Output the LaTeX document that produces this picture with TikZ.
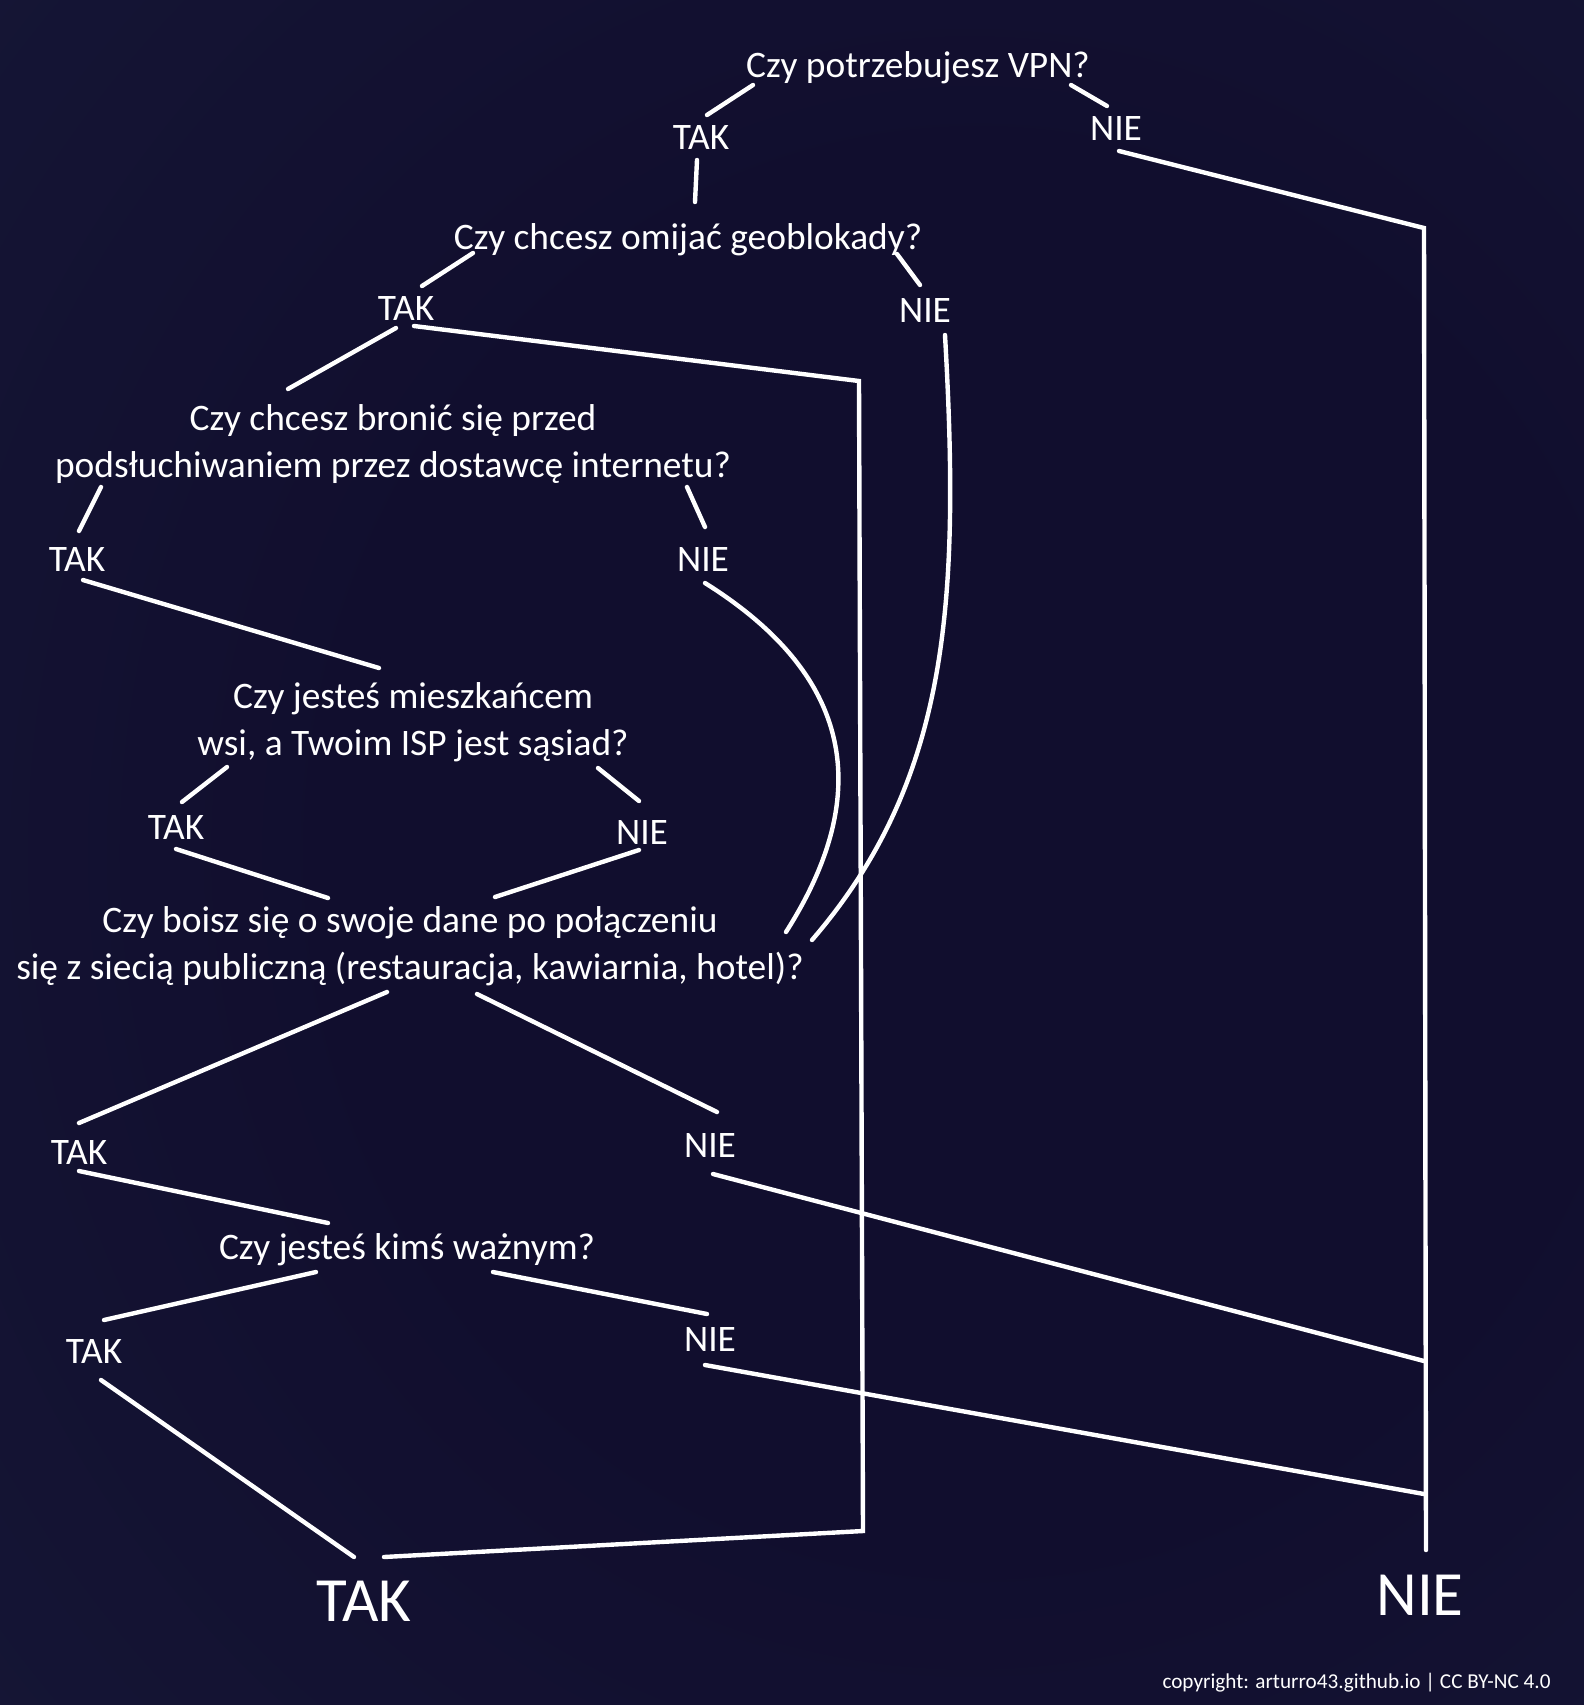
\documentclass[tikz,border=0pt]{standalone}
\usepackage{fontspec}
\setmainfont{Carlito}

\definecolor{tlo}{RGB}{27,33,64}
\definecolor{tlosrodek}{RGB}{17,14,46}
\pgfdeclareradialshading{tloshade}{\pgfpoint{8bp}{0bp}}{color(0bp)=(tlosrodek); color(20bp)=(tlosrodek); color(70bp)=(tlo); color(80bp)=(tlo)}

\tikzset{
  pytanie/.style={text=white, align=center, inner sep=0pt, font=\fontsize{18.7}{23.4}\selectfont},
  odp/.style={text=white, inner sep=0pt, font=\fontsize{18.7}{23.4}\selectfont},
  wynik/.style={text=white, inner sep=0pt, font=\fontsize{31.5}{36}\selectfont},
  linia/.style={draw=white, line width=2.2pt, line cap=round},
}

\begin{document}
\begin{tikzpicture}[x=0.5pt, y=-0.5pt]
\shade[shading=tloshade] (0,0) rectangle (1584,1705);
\useasboundingbox (0,0) rectangle (1584,1705);

% pytania i odpowiedzi
\node[pytanie] (vpn) at (918,68) {Czy potrzebujesz VPN?};
\node[odp] (tak1) at (701,137) {TAK};
\node[odp] (nie1) at (1116,128) {NIE};

\node[pytanie] (geo) at (688,240) {Czy chcesz omijać geoblokady?};
\node[odp] (tak2) at (406,308) {TAK};
\node[odp] (nie2) at (925,310) {NIE};

\node[pytanie] (isp) at (393,444) {Czy chcesz bronić się przed\\podsłuchiwaniem przez dostawcę internetu?};
\node[odp] (tak3) at (77,559) {TAK};
\node[odp] (nie3) at (703,559) {NIE};

\node[pytanie] (wies) at (413,722) {Czy jesteś mieszkańcem\\wsi, a Twoim ISP jest sąsiad?};
\node[odp] (tak4) at (176,827) {TAK};
\node[odp] (nie4) at (642,832) {NIE};

\node[pytanie] (wifi) at (410,946) {Czy boisz się o swoje dane po połączeniu\\się z siecią publiczną (restauracja, kawiarnia, hotel)?};
\node[odp] (tak5) at (79,1152) {TAK};
\node[odp] (nie5) at (710,1145) {NIE};

\node[pytanie] (wazny) at (407,1250) {Czy jesteś kimś ważnym?};
\node[odp] (tak6) at (94,1351) {TAK};
\node[odp] (nie6) at (710,1339) {NIE};

\node[wynik] (takK) at (364,1601) {TAK};
\node[wynik] (nieK) at (1420,1595) {NIE};

\node[text=white, inner sep=0pt, anchor=east, font=\fontsize{10.6}{12}\selectfont] (stopka) at (1551,1683) {copyright: arturro43.github.io | CC BY-NC 4.0};

% konce linii
\coordinate (vpn-l) at (753,85);   \coordinate (tak1-t) at (707,115);
\coordinate (vpn-r) at (1071,85);  \coordinate (nie1-t) at (1107,106);
\coordinate (tak1-b) at (697,160); \coordinate (geo-t) at (695,202);
\coordinate (nie1-b) at (1119,151);
\coordinate (geo-l) at (473,253);  \coordinate (tak2-t) at (422,286);
\coordinate (geo-r) at (897,254);  \coordinate (nie2-t) at (920,285);
\coordinate (tak2-r) at (414,326); \coordinate (tak2-l) at (396,328);
\coordinate (isp-t) at (288,389);  \coordinate (nie2-b) at (945,335);
\coordinate (isp-l) at (101,487);  \coordinate (tak3-t) at (79,531);
\coordinate (isp-r) at (687,487);  \coordinate (nie3-t) at (705,527);
\coordinate (tak3-b) at (83,580);  \coordinate (wies-t) at (379,668);
\coordinate (nie3-b) at (705,583);
\coordinate (wies-l) at (227,767); \coordinate (tak4-t) at (182,802);
\coordinate (wies-r) at (598,768); \coordinate (nie4-t) at (639,801);
\coordinate (tak4-b) at (176,849); \coordinate (wifi-l) at (328,898);
\coordinate (nie4-b) at (639,850); \coordinate (wifi-m) at (495,897);
\coordinate (wifi-r1) at (786,932); \coordinate (wifi-r2) at (812,940);
\coordinate (wifi-bl) at (387,992); \coordinate (tak5-t) at (79,1123);
\coordinate (wifi-br) at (477,994); \coordinate (nie5-t) at (717,1112);
\coordinate (tak5-b) at (79,1171); \coordinate (wazny-t) at (328,1223);
\coordinate (nie5-b) at (713,1174);
\coordinate (wazny-l) at (316,1272); \coordinate (tak6-t) at (104,1320);
\coordinate (wazny-r) at (493,1272); \coordinate (nie6-t) at (707,1314);
\coordinate (tak6-b) at (101,1380); \coordinate (takK-t) at (354,1557);
\coordinate (nie6-b) at (705,1365); \coordinate (takK-r) at (384,1557);

% zbiorcze linie
\coordinate (m1) at (859,381);
\coordinate (m2) at (863,1531);
\coordinate (r1) at (1424,228);
\coordinate (r2) at (1424,1361);
\coordinate (r3) at (1424,1494);
\coordinate (nieK-t) at (1426,1550);

\draw[linia] (vpn-l) -- (tak1-t);
\draw[linia] (vpn-r) -- (nie1-t);
\draw[linia] (tak1-b) -- (geo-t);
\draw[linia] (nie1-b) -- (r1) -- (nieK-t);

\draw[linia] (geo-l) -- (tak2-t);
\draw[linia] (geo-r) -- (nie2-t);
\draw[linia] (tak2-r) -- (m1) -- (m2) -- (takK-r);
\draw[linia] (tak2-l) -- (isp-t);
\draw[linia] (nie2-b) .. controls (960,600) and (950,780) .. (wifi-r2);

\draw[linia] (isp-l) -- (tak3-t);
\draw[linia] (isp-r) -- (nie3-t);
\draw[linia] (tak3-b) -- (wies-t);
\draw[linia] (nie3-b) .. controls (860,680) and (870,800) .. (wifi-r1);

\draw[linia] (wies-l) -- (tak4-t);
\draw[linia] (wies-r) -- (nie4-t);
\draw[linia] (tak4-b) -- (wifi-l);
\draw[linia] (nie4-b) -- (wifi-m);

\draw[linia] (wifi-bl) -- (tak5-t);
\draw[linia] (wifi-br) -- (nie5-t);
\draw[linia] (tak5-b) -- (wazny-t);
\draw[linia] (nie5-b) -- (r2);

\draw[linia] (wazny-l) -- (tak6-t);
\draw[linia] (wazny-r) -- (nie6-t);
\draw[linia] (tak6-b) -- (takK-t);
\draw[linia] (nie6-b) -- (r3);

\end{tikzpicture}
\end{document}
